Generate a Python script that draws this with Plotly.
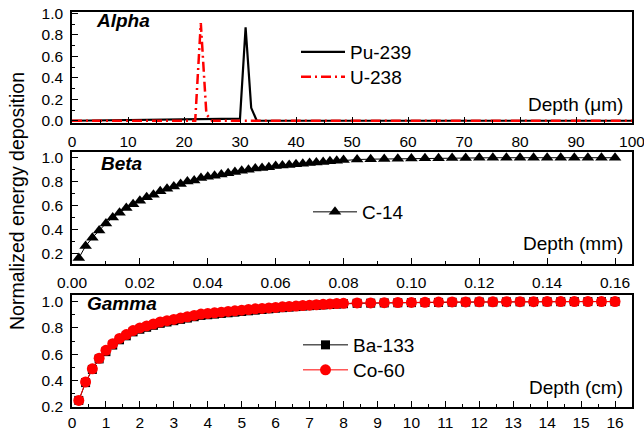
import plotly.graph_objects as go

W, H = 644, 430
ML, MR, MT, MB = 72, 12, 12, 23
PW, PH = W - ML - MR, H - MT - MB

def px(xp):
    return (xp - ML) / PW

def py(yp):
    return (H - MB - yp) / PH

# ---------------- data ----------------
# Alpha (depth in micrometres)
pu239_x = [0, 30, 31, 32, 33, 100]
pu239_y = [0, 0.02, 0.87, 0.12, 0, 0]
u238_x = [0, 22, 23, 24, 25, 100]
u238_y = [0, 0, 0.91, 0.06, 0, 0]

# Beta (depth in mm)
c14_x = [0.002, 0.004, 0.006, 0.008, 0.010, 0.012, 0.014, 0.016, 0.018, 0.020,
         0.022, 0.024, 0.026, 0.028, 0.030, 0.032, 0.034, 0.036, 0.038, 0.040,
         0.042, 0.044, 0.046, 0.048, 0.050, 0.052, 0.054, 0.056, 0.058, 0.060,
         0.062, 0.064, 0.066, 0.068, 0.070, 0.072, 0.074, 0.076, 0.078, 0.080,
         0.084, 0.088, 0.092, 0.096, 0.100, 0.104, 0.108, 0.112, 0.116, 0.120,
         0.124, 0.128, 0.132, 0.136, 0.140, 0.144, 0.148, 0.152, 0.156, 0.160]
c14_y = [0.16, 0.26, 0.33, 0.39, 0.45, 0.50, 0.54, 0.58, 0.61, 0.64,
         0.67, 0.69, 0.72, 0.74, 0.76, 0.78, 0.80, 0.81, 0.83, 0.84,
         0.85, 0.86, 0.87, 0.88, 0.89, 0.90, 0.91, 0.915, 0.92, 0.93,
         0.935, 0.94, 0.945, 0.95, 0.955, 0.96, 0.965, 0.97, 0.975, 0.98,
         0.985, 0.988, 0.99, 0.992, 0.994, 0.995, 0.996, 0.997, 0.998, 0.999,
         1.0, 1.0, 1.0, 1.0, 1.0, 1.0, 1.0, 1.0, 1.0, 1.0]

# Gamma (depth in cm)
gamma_x = [0.2, 0.4, 0.6, 0.8, 1.0, 1.2, 1.4, 1.6, 1.8, 2.0,
           2.2, 2.4, 2.6, 2.8, 3.0, 3.2, 3.4, 3.6, 3.8, 4.0,
           4.2, 4.4, 4.6, 4.8, 5.0, 5.2, 5.4, 5.6, 5.8, 6.0,
           6.2, 6.4, 6.6, 6.8, 7.0, 7.2, 7.4, 7.6, 7.8, 8.0,
           8.4, 8.8, 9.2, 9.6, 10.0, 10.4, 10.8, 11.2, 11.6, 12.0,
           12.4, 12.8, 13.2, 13.6, 14.0, 14.4, 14.8, 15.2, 15.6, 16.0]
ba133_y = [0.25, 0.385, 0.485, 0.565, 0.62, 0.67, 0.71, 0.74, 0.77, 0.79,
           0.805, 0.82, 0.835, 0.845, 0.855, 0.865, 0.875, 0.885, 0.895, 0.90,
           0.905, 0.91, 0.915, 0.92, 0.925, 0.93, 0.935, 0.94, 0.945, 0.95,
           0.954, 0.958, 0.962, 0.966, 0.969, 0.972, 0.975, 0.978, 0.981, 0.984,
           0.987, 0.988, 0.99, 0.991, 0.992, 0.993, 0.994, 0.995, 0.996, 0.997,
           0.997, 0.998, 0.998, 0.999, 0.999, 0.999, 1.0, 1.0, 1.0, 1.0]
co60_y = [0.25, 0.39, 0.49, 0.57, 0.63, 0.68, 0.72, 0.75, 0.78, 0.80,
          0.815, 0.83, 0.845, 0.855, 0.865, 0.875, 0.885, 0.895, 0.905, 0.91,
          0.915, 0.92, 0.925, 0.93, 0.935, 0.94, 0.945, 0.948, 0.952, 0.956,
          0.96, 0.963, 0.966, 0.97, 0.973, 0.976, 0.979, 0.982, 0.985, 0.987,
          0.99, 0.99, 0.992, 0.993, 0.994, 0.995, 0.996, 0.997, 0.997, 0.998,
          0.998, 0.999, 0.999, 0.999, 1.0, 1.0, 1.0, 1.0, 1.0, 1.0]

alpha_xticks = [0, 10, 20, 30, 40, 50, 60, 70, 80, 90, 100]
beta_xticks = [0.00, 0.02, 0.04, 0.06, 0.08, 0.10, 0.12, 0.14, 0.16]
gamma_xticks = list(range(0, 17))

FONT = "Liberation Sans, Arial, sans-serif"
TICKF = dict(family=FONT, size=15.5, color="black")
BIGF = dict(family=FONT, size=19, color="black")
YTF = dict(family=FONT, size=19.5, color="black")

fig = go.Figure()

fig.add_trace(go.Scatter(x=pu239_x, y=pu239_y, mode="lines", name="Pu-239",
                         line=dict(color="black", width=2.2),
                         xaxis="x", yaxis="y", legend="legend"))
fig.add_trace(go.Scatter(x=u238_x, y=u238_y, mode="lines", name="U-238",
                         line=dict(color="#ff0000", width=2.5, dash="10px,4px,2px,4px"),
                         xaxis="x", yaxis="y", legend="legend2"))
fig.add_trace(go.Scatter(x=c14_x, y=c14_y, mode="lines+markers", name="C-14",
                         line=dict(color="black", width=1),
                         marker=dict(symbol="triangle-up", size=11, color="black"),
                         xaxis="x2", yaxis="y2", legend="legend3"))
fig.add_trace(go.Scatter(x=gamma_x, y=ba133_y, mode="lines+markers", name="Ba-133",
                         line=dict(color="black", width=1),
                         marker=dict(symbol="square", size=9, color="black"),
                         xaxis="x3", yaxis="y3", legend="legend4"))
fig.add_trace(go.Scatter(x=gamma_x, y=co60_y, mode="lines+markers", name="Co-60",
                         line=dict(color="#ff0000", width=1),
                         marker=dict(symbol="circle", size=11, color="#ff0000"),
                         xaxis="x3", yaxis="y3", legend="legend5"))

axis_common = dict(showline=True, linecolor="black", linewidth=1.5, mirror=True,
                   ticks="inside", ticklen=6, tickwidth=1.2, tickcolor="black",
                   showgrid=False, zeroline=False, tickfont=TICKF, automargin=False,
                   ticklabeloverflow="allow")
minor_common = dict(ticks="inside", ticklen=3, tickwidth=1.2, tickcolor="black", showgrid=False)

dom_top = [py(123), py(12)]
dom_mid = [py(264), py(152)]
dom_bot = [py(407), py(295)]

def leg(xl, yc, iw):
    return dict(x=px(xl), y=py(yc), xanchor="left", yanchor="middle",
                bgcolor="rgba(0,0,0,0)", font=BIGF, itemwidth=iw, borderwidth=0)

fig.update_layout(
    width=W, height=H,
    margin=dict(l=ML, r=MR, t=MT, b=MB, autoexpand=False),
    paper_bgcolor="white", plot_bgcolor="white",
    font=dict(family=FONT, color="black"),
    xaxis=dict(axis_common, domain=[0, 1], anchor="y", range=[0, 100],
               tickvals=alpha_xticks, minor=dict(minor_common, dtick=5),
               ticklabelstandoff=4),
    yaxis=dict(axis_common, domain=dom_top, anchor="x", range=[-0.021, 1.012],
               tickvals=[0, 0.2, 0.4, 0.6, 0.8, 1.0], tickformat=".1f",
               minor=dict(minor_common, dtick=0.1), ticklabelstandoff=4),
    xaxis2=dict(axis_common, domain=[0, 1], anchor="y2", range=[0, 0.165],
                tickvals=beta_xticks, tickformat=".2f",
                minor=dict(minor_common, dtick=0.01), ticklabelstandoff=4),
    yaxis2=dict(axis_common, domain=dom_mid, anchor="x2", range=[0.11, 1.048],
                tickvals=[0.2, 0.4, 0.6, 0.8, 1.0], tickformat=".1f",
                minor=dict(minor_common, tick0=0.1, dtick=0.1), ticklabelstandoff=4),
    xaxis3=dict(axis_common, domain=[0, 1], anchor="y3", range=[0, 16.5],
                tickvals=gamma_xticks, minor=dict(minor_common, dtick=0.5),
                ticklabelstandoff=1),
    yaxis3=dict(axis_common, domain=dom_bot, anchor="x3", range=[0.2, 1.05],
                tickvals=[0.2, 0.4, 0.6, 0.8, 1.0], tickformat=".1f",
                minor=dict(minor_common, dtick=0.1), ticklabelstandoff=4),
    legend=leg(296, 52, 44),
    legend2=leg(296, 77, 44),
    legend3=leg(308, 212, 44),
    legend4=leg(298, 345, 45),
    legend5=leg(298, 370, 45),
    showlegend=True,
)

ann = [
    dict(text="<b><i>Alpha</i></b>", x=px(94), y=py(20)),
    dict(text="<b><i>Beta</i></b>", x=px(99), y=py(163)),
    dict(text="<b><i>Gamma</i></b>", x=px(85), y=py(303)),
]
for a in ann:
    fig.add_annotation(xref="paper", yref="paper", xanchor="left", yanchor="middle",
                       showarrow=False, font=BIGF, **a)

for txt, ycen in [("Depth (μm)", 104), ("Depth (mm)", 243), ("Depth (cm)", 387)]:
    fig.add_annotation(text=txt, xref="paper", yref="paper", x=px(625), y=py(ycen),
                       xanchor="right", yanchor="middle", showarrow=False, font=BIGF)

fig.add_annotation(text="Normalized energy deposition", xref="paper", yref="paper",
                   x=px(17), y=py(201), xanchor="center", yanchor="middle",
                   textangle=-90, showarrow=False, font=YTF)

fig.write_html("out.html", config={"displayModeBar": False},
               post_script="document.body.style.margin='0';document.body.style.overflow='hidden';")
